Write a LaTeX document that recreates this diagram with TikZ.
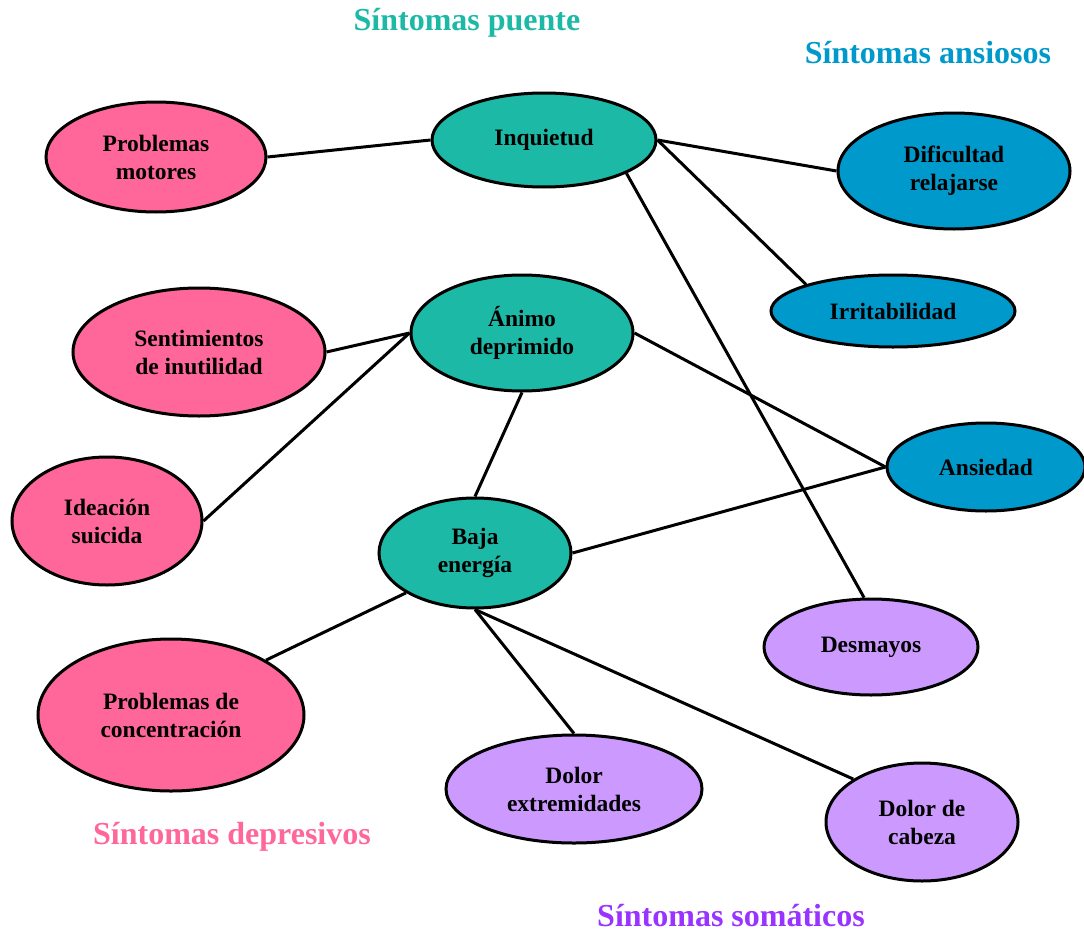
\documentclass[tikz,border=0pt]{standalone}
\usepackage{fontspec}
\setmainfont{Liberation Serif}
\usetikzlibrary{shapes.geometric}
\definecolor{puente}{HTML}{1DB9A7}
\definecolor{ansioso}{HTML}{0099CC}
\definecolor{depresivo}{HTML}{FF6699}
\definecolor{somatico}{HTML}{CC99FF}
\definecolor{somaticotit}{HTML}{9933FF}
\tikzset{
  sym/.style={ellipse, draw=black, line width=3pt, inner sep=0pt, align=center,
    font=\fontsize{23.5}{28}\selectfont\bfseries, text=black},
  puentesym/.style={sym, fill=puente},
  ansiososym/.style={sym, fill=ansioso},
  depresivosym/.style={sym, fill=depresivo},
  somaticosym/.style={sym, fill=somatico},
  link/.style={line width=3pt, draw=black},
  grouptitle/.style={font=\fontsize{32}{36}\selectfont\bfseries}
}
\begin{document}
\begin{tikzpicture}[x=1pt,y=-1pt]
\useasboundingbox (0,0) rectangle (1084,934);

% group titles
\node[grouptitle, text=puente] (tpuente) at (467,23) {Síntomas puente};
\node[grouptitle, text=ansioso] (tansioso) at (928,53) {Síntomas ansiosos};
\node[grouptitle, text=depresivo] (tdepresivo) at (232,837) {Síntomas depresivos};
\node[grouptitle, text=somaticotit] (tsomatico) at (731,916) {Síntomas somáticos};

% bridge symptoms
\node[puentesym, minimum width=224pt, minimum height=94pt] (inq) at (544,140) {Inquietud};
\node[puentesym, minimum width=222pt, minimum height=116pt] (anim) at (522,333) {Ánimo\\deprimido};
\node[puentesym, minimum width=192pt, minimum height=110pt] (baja) at (475,553) {Baja\\energía};

% anxious symptoms
\node[ansiososym, minimum width=232pt, minimum height=116pt] (dif) at (954,171) {Dificultad\\relajarse};
\node[ansiososym, minimum width=244pt, minimum height=72pt] (irr) at (893,311) {Irritabilidad};
\node[ansiososym, minimum width=198pt, minimum height=88pt] (ans) at (986,467) {Ansiedad};

% depressive symptoms
\node[depresivosym, minimum width=220pt, minimum height=110pt] (mot) at (156,157) {Problemas\\motores};
\node[depresivosym, minimum width=252pt, minimum height=128pt] (sent) at (199,352) {Sentimientos\\de inutilidad};
\node[depresivosym, minimum width=190pt, minimum height=128pt] (idea) at (107,521) {Ideación\\suicida};
\node[depresivosym, minimum width=266pt, minimum height=152pt] (conc) at (171,715) {Problemas de\\concentración};

% somatic symptoms
\node[somaticosym, minimum width=214pt, minimum height=96pt] (desm) at (871,647) {Desmayos};
\node[somaticosym, minimum width=256pt, minimum height=108pt] (ext) at (574,789) {Dolor\\extremidades};
\node[somaticosym, minimum width=192pt, minimum height=118pt] (cab) at (922,822) {Dolor de\\cabeza};

% connections
\draw[link] (mot.east) -- (inq.west);
\draw[link] (inq.east) -- (dif.west);
\draw[link] (inq.east) -- (irr.163);
\draw[link] (inq.-22) -- (desm.98);
\draw[link] (sent.east) -- (anim.west);
\draw[link] (idea.east) -- (anim.west);
\draw[link] (anim.south) -- (baja.north);
\draw[link] (anim.east) -- (ans.west);
\draw[link] (baja.east) -- (ans.west);
\draw[link] (baja.210) -- (conc.30);
\draw[link] (baja.south) -- (ext.north);
\draw[link] (baja.south) -- (cab.148);
\end{tikzpicture}
\end{document}
